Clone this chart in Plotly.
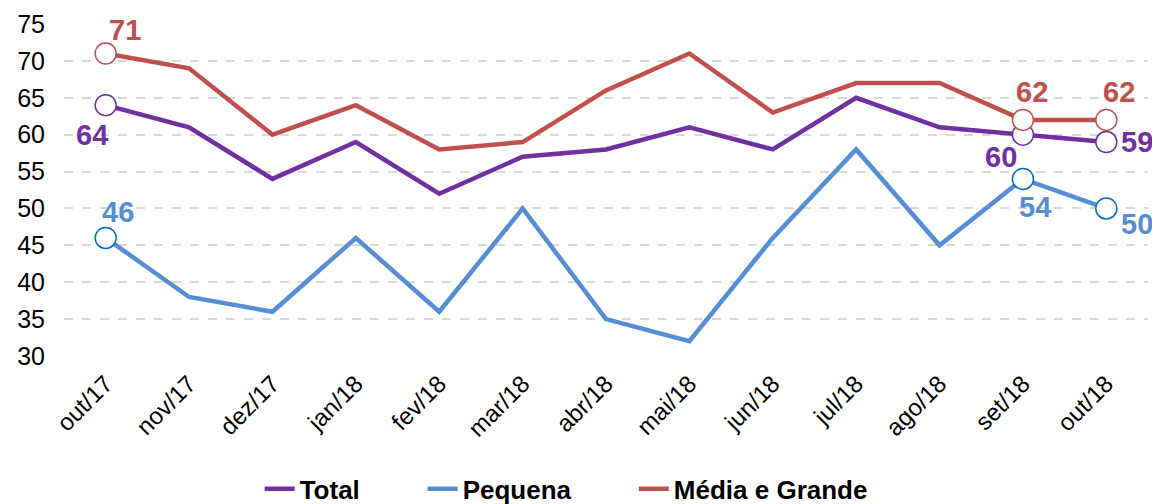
import plotly.graph_objects as go

months = ["out/17", "nov/17", "dez/17", "jan/18", "fev/18", "mar/18", "abr/18",
          "mai/18", "jun/18", "jul/18", "ago/18", "set/18", "out/18"]
total = [64, 61, 54, 59, 52, 57, 58, 61, 58, 65, 61, 60, 59]
pequena = [46, 38, 36, 46, 36, 50, 35, 32, 46, 58, 45, 54, 50]
media_grande = [71, 69, 60, 64, 58, 59, 66, 71, 63, 67, 67, 62, 62]

series = [
    ("Total", total, "#7030A0", "#7030A0"),
    ("Pequena", pequena, "#558ED5", "#0070C0"),
    ("Média e Grande", media_grande, "#C0504D", "#C0504D"),
]

# labeled points: (series index, point index, xshift, yshift)
labels = [
    (0, 0, -14, -30), (0, 11, -22, -22), (0, 12, 31, 0),
    (1, 0, 12, 26), (1, 11, 12, -28), (1, 12, 31, -16),
    (2, 0, 19, 24), (2, 11, 9, 28), (2, 12, 13, 28),
]

FONT = "Arial, Liberation Sans"
PAD = "\u00a0" * 8

fig = go.Figure()
for name, vals, col, mcol in series:
    fig.add_trace(go.Scatter(x=months, y=vals, mode="lines",
                             name="<b>" + name + "</b>" + PAD,
                             line=dict(color=col, width=4.5), cliponaxis=False))
for name, vals, col, mcol in series:
    idx = [0, 11, 12]
    fig.add_trace(go.Scatter(x=[months[i] for i in idx], y=[vals[i] for i in idx],
                             mode="markers", showlegend=False, cliponaxis=False,
                             marker=dict(size=21, color="white",
                                         line=dict(color=mcol, width=1.5))))

annots = []
for si, pi, dx, dy in labels:
    name, vals, col, mcol = series[si]
    annots.append(dict(x=months[pi], y=vals[pi], text="<b>" + str(vals[pi]) + "</b>",
                       showarrow=False, xshift=dx, yshift=dy,
                       font=dict(family=FONT, size=29, color=col)))

fig.update_layout(
    width=1152, height=496,
    margin=dict(l=56, r=12, t=16, b=148, autoexpand=False),
    plot_bgcolor="white", paper_bgcolor="white",
    font=dict(family=FONT, size=22, color="black"),
    annotations=annots,
    legend=dict(orientation="h", x=0.49, xanchor="center", y=-0.40, yanchor="middle",
                font=dict(size=26, color="black", family=FONT),
                tracegroupgap=0),
    xaxis=dict(type="category", range=[-0.5, 12.5], tickangle=-45, showgrid=False,
               showline=False, ticks="", tickfont=dict(size=24), automargin=False,
               ticklabelstandoff=8),
    yaxis=dict(range=[30, 75], dtick=5, showgrid=True, gridcolor="#D9D9D9",
               griddash="dash", gridwidth=1.5, zeroline=False, showline=False,
               ticks="", tickfont=dict(size=25), automargin=False,
               ticklabelstandoff=18),
)
fig.write_html("out.html")
